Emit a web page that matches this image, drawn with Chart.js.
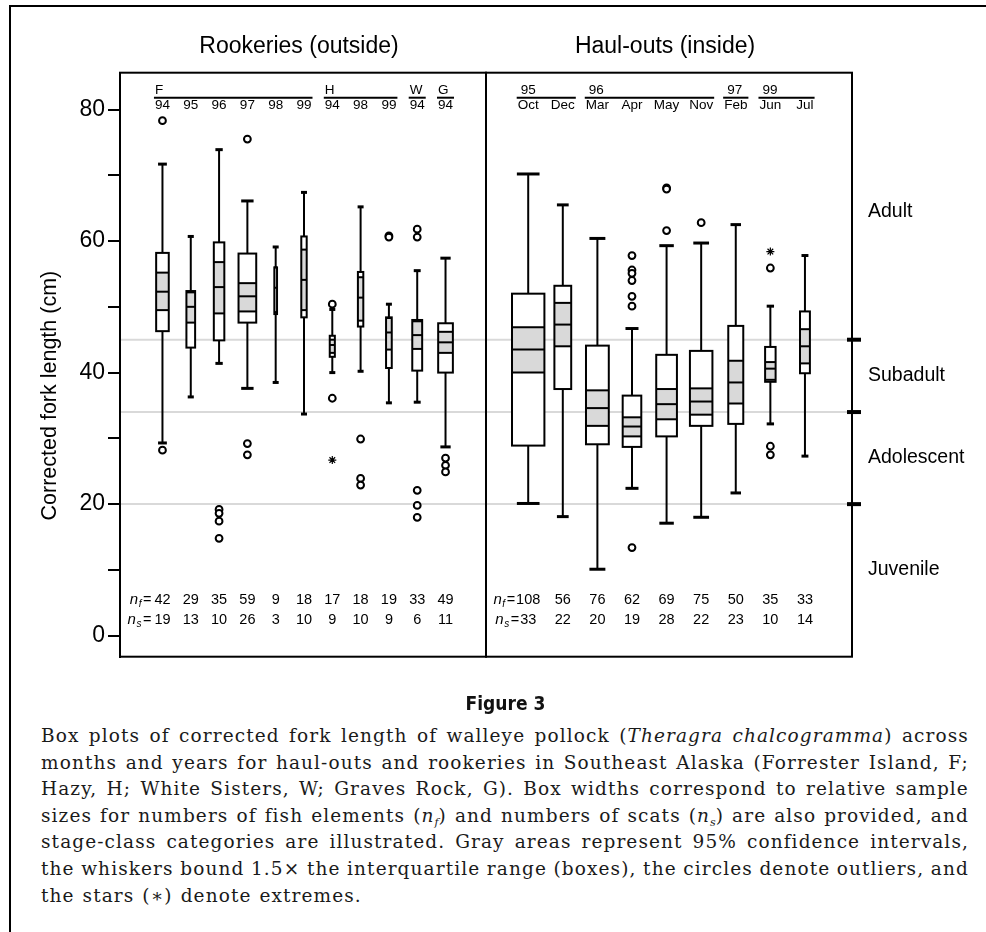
<!DOCTYPE html>
<html>
<head>
<meta charset="utf-8">
<script src="https://cdn.jsdelivr.net/npm/chart.js@4.4.1/dist/chart.umd.min.js"></script>
<style>
body { margin: 0; background: #fff; }
#page { position: relative; width: 986px; height: 932px; overflow: hidden; }
#frame { position: absolute; left: 9px; top: 5px; width: 990px; height: 940px; border-left: 2px solid #000; border-top: 2px solid #000; }
canvas { position: absolute; left: 0; top: 0; }
#figtitle { position: absolute; left: 0; width: 1011px; top: 692px; text-align: center; font: bold 19px "Liberation Sans Narrow", "DejaVu Sans Condensed", "Liberation Sans", sans-serif; color: #111; }
#caption { position: absolute; left: 41px; width: 928px; top: 723px; font: 18.5px "DejaVu Serif", serif; letter-spacing: 1.1px; color: #1a1a1a; }
.ln { display: flex; justify-content: space-between; height: 26.6px; line-height: 26.6px; white-space: nowrap; }
.ln.last { display: block; word-spacing: 1px; }
.ln sub { font-size: 11px; vertical-align: -4px; line-height: 0; letter-spacing: 0; }
</style>
</head>
<body>
<div id="page">
  <div id="frame"></div>
  <canvas id="rook" width="986" height="700"></canvas>
  <canvas id="haul" width="986" height="700"></canvas>
  <div id="figtitle">Figure 3</div>
  <div id="caption"></div>
</div>
<script>
// rookeries (outside)
const rookSites = ['F', 'F', 'F', 'F', 'F', 'F', 'H', 'H', 'H', 'W', 'G'];
const rookYears = ['94', '95', '96', '97', '98', '99', '94', '98', '99', '94', '94'];
const rookNf = [42, 29, 35, 59, 9, 18, 17, 18, 19, 33, 49];
const rookNs = [19, 13, 10, 26, 3, 10, 9, 10, 9, 6, 11];
const rookLow = [29.3, 36.3, 41.4, 37.6, 38.5, 33.7, 40.0, 40.2, 35.4, 35.5, 28.7];
const rookQ1 = [46.3, 43.8, 44.9, 47.6, 48.9, 48.4, 42.4, 47.0, 40.7, 40.3, 40.0];
const rookCiLow = [49.5, 47.6, 49.0, 49.3, 49.2, 49.5, 43.0, 47.9, 43.5, 43.6, 43.0];
const rookMedian = [52.3, 50.0, 53.0, 51.6, 52.9, 54.1, 44.2, 51.4, 46.1, 45.7, 44.6];
const rookCiHigh = [55.2, 52.2, 56.8, 53.6, 56.0, 58.7, 45.0, 54.5, 48.3, 47.8, 46.2];
const rookQ3 = [58.2, 52.4, 59.8, 58.1, 56.0, 60.7, 45.6, 55.3, 48.4, 48.0, 47.5];
const rookHigh = [71.7, 60.7, 73.9, 66.1, 59.1, 67.4, 49.6, 65.2, 50.4, 55.5, 57.4];
const rookOutliers = [[78.3, 28.2], [], [19.2, 18.6, 17.4, 14.8], [75.5, 29.2, 27.5], [], [],
  [50.4, 36.1], [29.9, 23.9, 22.9], [60.8, 60.6], [61.8, 60.6, 22.1, 19.8, 18.0], [27.0, 25.9, 24.9]];
const rookExtremes = [[], [], [], [], [], [], [26.7], [], [], [], []];

// haul-outs (inside)
const haulYears = ['95', '95', '96', '96', '96', '96', '97', '99', '99'];
const haulMonths = ['Oct', 'Dec', 'Mar', 'Apr', 'May', 'Nov', 'Feb', 'Jun', 'Jul'];
const haulNf = [108, 56, 76, 62, 69, 75, 50, 35, 33];
const haulNs = [33, 22, 20, 19, 28, 22, 23, 10, 14];
const haulLow = [20.1, 18.1, 10.1, 22.4, 17.1, 18.0, 21.7, 32.2, 27.3];
const haulQ1 = [28.9, 37.5, 29.1, 28.7, 30.3, 31.9, 32.2, 38.6, 39.9];
const haulCiLow = [40.0, 44.0, 31.9, 30.3, 32.9, 33.6, 35.3, 38.9, 41.4];
const haulMedian = [43.5, 47.3, 34.6, 31.8, 35.2, 35.6, 38.5, 40.6, 44.0];
const haulCiHigh = [46.9, 50.6, 37.3, 33.2, 37.5, 37.6, 41.8, 41.6, 46.6];
const haulQ3 = [52.0, 53.2, 44.1, 36.5, 42.7, 43.3, 47.1, 43.9, 49.3];
const haulHigh = [70.2, 65.5, 60.4, 46.7, 59.3, 59.7, 62.5, 50.1, 57.8];
const haulOutliers = [[], [], [], [57.8, 55.6, 55.1, 54.0, 51.6, 50.1, 13.4], [68.1, 67.9, 61.6], [62.8], [],
  [55.9, 28.8, 27.5], []];
const haulExtremes = [[], [], [], [], [], [], [], [58.4], []];

// stage classes
const stageBreaks = [20, 34, 45];
const stageNames = ['Juvenile', 'Adolescent', 'Subadult', 'Adult'];
const stageLabelAt = [10, 27, 39.5, 64.5];
const yTicks = [0, 10, 20, 30, 40, 50, 60, 70, 80];

const FONT = '"Liberation Sans", Arial, sans-serif';
const PX_PER_FISH = 0.3;   // box width per fish element
const Y_MIN = -3.2, Y_MAX = 85.6;

function toPoints(groups) {
    return groups.flatMap((vals, i) => vals.map(v => ({ x: i, y: v })));
}

function seg(ctx, x0, y0, x1, y1) {
    ctx.beginPath();
    ctx.moveTo(x0, y0);
    ctx.lineTo(x1, y1);
    ctx.stroke();
}

function drawPrefix(ctx, sub, xRight, base) {
    ctx.textAlign = 'right';
    ctx.font = '14.5px ' + FONT;
    ctx.fillText('=', xRight, base);
    let xr = xRight - ctx.measureText('=').width - 1.5;
    ctx.font = 'italic 10px ' + FONT;
    ctx.fillText(sub, xr, base + 3);
    xr -= ctx.measureText(sub).width + 0.5;
    ctx.font = 'italic 15px ' + FONT;
    ctx.fillText('n', xr, base);
}

function panelPlugin(p) {
    return {
        id: 'panel-' + p.key,
        beforeDatasetsDraw(chart) {
            const { ctx, chartArea: a, scales: { x, y } } = chart;
            const Y = v => y.getPixelForValue(v);
            ctx.save();
            ctx.strokeStyle = '#d9d9d9';
            ctx.lineWidth = 2;
            stageBreaks.forEach(v => seg(ctx, a.left, Y(v), a.right, Y(v)));

            p.nf.forEach((n, i) => {
                const cx = x.getPixelForValue(i);
                const w = n * PX_PER_FISH;
                const cap = Math.max(6, w * 0.7);
                ctx.strokeStyle = '#000';
                ctx.lineWidth = 2;
                seg(ctx, cx, Y(p.high[i]), cx, Y(p.q3[i]));
                seg(ctx, cx, Y(p.q1[i]), cx, Y(p.low[i]));
                ctx.lineWidth = 3;
                seg(ctx, cx - cap / 2, Y(p.high[i]), cx + cap / 2, Y(p.high[i]));
                seg(ctx, cx - cap / 2, Y(p.low[i]), cx + cap / 2, Y(p.low[i]));

                const top = Y(p.q3[i]), bot = Y(p.q1[i]);
                ctx.fillStyle = '#fff';
                ctx.fillRect(cx - w / 2, top, w, bot - top);
                ctx.fillStyle = '#d9d9d9';
                ctx.fillRect(cx - w / 2, Y(p.ciHigh[i]), w, Y(p.ciLow[i]) - Y(p.ciHigh[i]));
                ctx.lineWidth = 2;
                [p.ciHigh[i], p.median[i], p.ciLow[i]].forEach(v => seg(ctx, cx - w / 2, Y(v), cx + w / 2, Y(v)));
                ctx.strokeRect(cx - w / 2, top, w, bot - top);
            });
            ctx.restore();
        },
        afterDatasetsDraw(chart) {
            const { ctx, chartArea: a, scales: { x, y } } = chart;
            const X = i => x.getPixelForValue(i);
            ctx.save();
            ctx.strokeStyle = '#000';
            ctx.fillStyle = '#000';
            ctx.lineWidth = 2;
            ctx.strokeRect(a.left, a.top, a.right - a.left, a.bottom - a.top);

            // panel title
            ctx.font = '23px ' + FONT;
            ctx.textAlign = 'center';
            ctx.textBaseline = 'alphabetic';
            ctx.fillText(p.title, (a.left + a.right) / 2 - 4, a.top - 19.5);

            // two level category labels
            ctx.font = '13.5px ' + FONT;
            const lineY = a.top + 25;
            let s = 0;
            while (s < p.top.length) {
                let e = s;
                while (e + 1 < p.top.length && p.top[e + 1] === p.top[s]) e++;
                const x0 = X(s) - ctx.measureText(p.sub[s]).width / 2 - 1;
                const x1 = X(e) + ctx.measureText(p.sub[e]).width / 2 + 1;
                seg(ctx, x0, lineY, x1, lineY);
                ctx.textAlign = 'left';
                ctx.fillText(p.top[s], x0 + p.topIndent, lineY - 4);
                s = e + 1;
            }
            ctx.textAlign = 'center';
            p.sub.forEach((t, i) => ctx.fillText(t, X(i), lineY + 11));

            // sample sizes
            const rowF = a.bottom - 52.5, rowS = a.bottom - 33.2;
            ctx.font = '14.5px ' + FONT;
            p.nf.forEach((n, i) => ctx.fillText(String(n), X(i), rowF));
            p.ns.forEach((n, i) => ctx.fillText(String(n), X(i), rowS));
            ctx.font = '14.5px ' + FONT;
            const wf = ctx.measureText(String(p.nf[0])).width;
            const ws = ctx.measureText(String(p.ns[0])).width;
            drawPrefix(ctx, 'f', X(0) - wf / 2 - p.prefixGap, rowF);
            drawPrefix(ctx, 's', X(0) - ws / 2 - p.prefixGap, rowS);

            if (p.yTitle) {
                ctx.save();
                ctx.translate(50, y.getPixelForValue(36.5));
                ctx.rotate(-Math.PI / 2);
                ctx.font = '21.5px ' + FONT;
                ctx.textAlign = 'center';
                ctx.textBaseline = 'middle';
                ctx.fillText(p.yTitle, 0, 0);
                ctx.restore();
            }

            if (p.stages) {
                ctx.lineWidth = 4;
                stageBreaks.forEach(v => {
                    const py = y.getPixelForValue(v);
                    seg(ctx, a.right - 5, py, a.right + 9, py);
                });
                ctx.font = '19.5px ' + FONT;
                ctx.textAlign = 'left';
                ctx.textBaseline = 'middle';
                stageNames.forEach((t, i) => ctx.fillText(t, a.right + 16, y.getPixelForValue(stageLabelAt[i])));
            }
            ctx.restore();
        }
    };
}

function makeChart(id, p, xMin, xMax, padding, showY) {
    return new Chart(document.getElementById(id), {
        type: 'line',
        data: {
            datasets: [{
                data: toPoints(p.outliers),
                showLine: false,
                pointStyle: 'circle',
                pointRadius: 3.4,
                pointBorderWidth: 2,
                pointBorderColor: '#000',
                pointBackgroundColor: '#fff'
            }, {
                data: toPoints(p.extremes),
                showLine: false,
                pointStyle: 'star',
                pointRadius: 4,
                pointBorderWidth: 1.2,
                pointBorderColor: '#000'
            }]
        },
        options: {
            responsive: false,
            animation: false,
            events: [],
            layout: { padding: padding },
            plugins: { legend: { display: false }, tooltip: { enabled: false } },
            scales: {
                x: { type: 'linear', display: false, min: xMin, max: xMax },
                y: {
                    display: showY,
                    min: Y_MIN,
                    max: Y_MAX,
                    afterBuildTicks: scale => { scale.ticks = yTicks.map(v => ({ value: v })); },
                    afterFit: scale => { scale.width = showY ? 120 : 0; },
                    ticks: {
                        callback: v => (v % 20 === 0 ? v : ''),
                        font: { size: 23, family: FONT },
                        color: '#000',
                        padding: 3
                    },
                    grid: { drawOnChartArea: false, tickLength: 12, lineWidth: 2, tickWidth: 2, tickColor: '#000' },
                    border: { color: '#000', width: 2 }
                }
            }
        },
        plugins: [panelPlugin(p)]
    });
}

const rook = {
    key: 'rook', title: 'Rookeries (outside)', top: rookSites, sub: rookYears, topIndent: 1, prefixGap: 3,
    nf: rookNf, ns: rookNs, low: rookLow, q1: rookQ1, ciLow: rookCiLow, median: rookMedian,
    ciHigh: rookCiHigh, q3: rookQ3, high: rookHigh, outliers: rookOutliers, extremes: rookExtremes,
    yTitle: 'Corrected fork length (cm)', stages: false
};
const haul = {
    key: 'haul', title: 'Haul-outs (inside)', top: haulYears, sub: haulMonths, topIndent: 4, prefixGap: 1,
    nf: haulNf, ns: haulNs, low: haulLow, q1: haulQ1, ciLow: haulCiLow, median: haulMedian,
    ciHigh: haulCiHigh, q3: haulQ3, high: haulHigh, outliers: haulOutliers, extremes: haulExtremes,
    yTitle: null, stages: true
};

makeChart('rook', rook, -1.5, 11.43, { left: 0, top: 72.7, right: 500, bottom: 43.3 }, true);
makeChart('haul', haul, -1.22, 9.36, { left: 486, top: 72.7, right: 134, bottom: 43.3 }, false);

const captionLines = [
    'Box plots of corrected fork length of walleye pollock (<i>Theragra</i> <i>chalcogramma</i>) across',
    'months and years for haul-outs and rookeries in Southeast Alaska (Forrester Island, F;',
    'Hazy, H; White Sisters, W; Graves Rock, G). Box widths correspond to relative sample',
    'sizes for numbers of fish elements (<i>n<sub>f</sub></i>) and numbers of scats (<i>n<sub>s</sub></i>) are also provided, and',
    'stage-class categories are illustrated. Gray areas represent 95% confidence intervals,',
    'the whiskers bound 1.5× the interquartile range (boxes), the circles denote outliers, and',
    'the stars (∗) denote extremes.'
];
const cap = document.getElementById('caption');
captionLines.forEach((line, i) => {
    const div = document.createElement('div');
    div.className = 'ln';
    if (i === captionLines.length - 1) {
        div.className = 'ln last';
        div.innerHTML = line;
    } else {
        div.innerHTML = line.split(' ').map(w => '<span>' + w + '</span>').join('');
    }
    cap.appendChild(div);
});
</script>
</body>
</html>
